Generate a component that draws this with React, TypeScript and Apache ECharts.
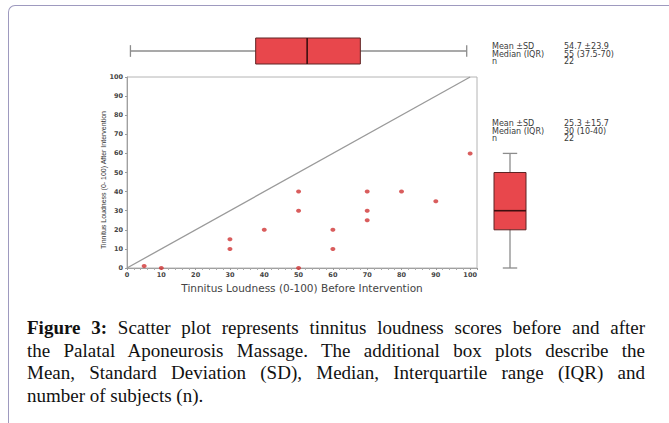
import React, { useEffect, useRef } from "react";
import * as echarts from "echarts";

// Scatter values (before vs after)
const beforeScores = [5, 10, 30, 30, 40, 50, 50, 50, 60, 60, 70, 70, 70, 80, 90, 100];
const afterScores = [1, 0, 10, 15, 20, 40, 30, 0, 20, 10, 40, 30, 25, 40, 35, 60];
// Box plot five-number summaries as drawn [min, q1, median, q3, max]
const beforeBox = [1, 37.5, 52.5, 68, 99];
const afterBox = [0, 20, 30, 50, 60];
// Identity line
const identityLine = [[0, 0], [100, 100]];
// Stats text
const statLabels = ["Mean \u00B1SD", "Median (IQR)", "n"];
const beforeStats = ["54.7 \u00B123.9", "55 (37.5-70)", "22"];
const afterStats = ["25.3 \u00B115.7", "30 (10-40)", "22"];
const xAxisTitle = "Tinnitus Loudness (0-100) Before Intervention";
const yAxisTitle = "Tinnitus Loudness (0- 100) After Intervention";
const captionBold = "Figure 3:";
const captionLines = [
  " Scatter plot represents tinnitus loudness scores before and after",
  "the Palatal Aponeurosis Massage. The additional box plots describe the",
  "Mean, Standard Deviation (SD), Median, Interquartile range (IQR) and",
  "number of subjects (n).",
];

const WHISKER = "#8c8c8c";
const BOX_FILL = "#e8474c";
const BOX_STROKE = "#5e2424";
const MEDIAN = "#3d0f0f";

function boxRender(horizontal: boolean) {
  return (params: any, api: any) => {
    const cs = params.coordSys;
    const v = [0, 1, 2, 3, 4].map((i) => api.value(i));
    const p = v.map((val) => (horizontal ? api.coord([val, 0.5])[0] : api.coord([0.5, val])[1]));
    const children: any[] = [];
    if (horizontal) {
      const cy = cs.y + cs.height / 2;
      const half = cs.height / 2;
      const cap = half * 0.45;
      children.push(
        { type: "line", shape: { x1: p[0], y1: cy, x2: p[4], y2: cy }, style: { stroke: WHISKER, lineWidth: 1.3 } },
        { type: "line", shape: { x1: p[0], y1: cy - cap, x2: p[0], y2: cy + cap }, style: { stroke: WHISKER, lineWidth: 1.3 } },
        { type: "line", shape: { x1: p[4], y1: cy - cap, x2: p[4], y2: cy + cap }, style: { stroke: WHISKER, lineWidth: 1.3 } },
        { type: "rect", shape: { x: p[1], y: cy - half, width: p[3] - p[1], height: half * 2 }, style: { fill: BOX_FILL, stroke: BOX_STROKE, lineWidth: 1 } },
        { type: "line", shape: { x1: p[2], y1: cy - half, x2: p[2], y2: cy + half }, style: { stroke: MEDIAN, lineWidth: 1.6 } }
      );
    } else {
      const cx = cs.x + cs.width / 2;
      const half = cs.width / 2;
      const cap = half * 0.45;
      children.push(
        { type: "line", shape: { x1: cx, y1: p[0], x2: cx, y2: p[4] }, style: { stroke: WHISKER, lineWidth: 1.3 } },
        { type: "line", shape: { x1: cx - cap, y1: p[0], x2: cx + cap, y2: p[0] }, style: { stroke: WHISKER, lineWidth: 1.3 } },
        { type: "line", shape: { x1: cx - cap, y1: p[4], x2: cx + cap, y2: p[4] }, style: { stroke: WHISKER, lineWidth: 1.3 } },
        { type: "rect", shape: { x: cx - half, y: p[3], width: half * 2, height: p[1] - p[3] }, style: { fill: BOX_FILL, stroke: BOX_STROKE, lineWidth: 1 } },
        { type: "line", shape: { x1: cx - half, y1: p[2], x2: cx + half, y2: p[2] }, style: { stroke: MEDIAN, lineWidth: 1.6 } }
      );
    }
    return { type: "group", children };
  };
}

function statTexts(x0: number, x1: number, y0: number, values: string[]) {
  const out: any[] = [];
  statLabels.forEach((lab, i) => {
    const y = y0 + i * 7.6;
    const common = { fontSize: 8, lineHeight: 7.4, fontFamily: "DejaVu Sans", fill: "#3a3a3a", verticalAlign: "middle" };
    out.push({ type: "text", x: x0, y, style: { ...common, text: lab } });
    out.push({ type: "text", x: x1, y, style: { ...common, text: values[i] } });
  });
  return out;
}

export default function App() {
  const ref = useRef<HTMLDivElement>(null);
  useEffect(() => {
    if (!ref.current) return;
    const chart = echarts.init(ref.current, null, { renderer: "svg" });
    const labelStyle = { fontSize: 6.5, fontWeight: "bold" as const, color: "#444", fontFamily: "DejaVu Sans" };
    chart.setOption({
      animation: false,
      grid: [
        { left: 127, top: 77, width: 350, height: 191, show: true, borderColor: "#b4b4b4", borderWidth: 1, backgroundColor: "transparent" },
        { left: 127, top: 38, width: 350, height: 26 },
        { left: 494, top: 77, width: 32, height: 191 },
      ],
      xAxis: [
        {
          gridIndex: 0, type: "value", min: 0, max: 102, interval: 10,
          name: xAxisTitle, nameLocation: "middle", nameGap: 12,
          nameTextStyle: { fontSize: 10.5, color: "#444", fontFamily: "DejaVu Sans" },
          axisLine: { show: true, lineStyle: { color: "#a0a0a0" } },
          axisTick: { show: true, length: 2, lineStyle: { color: "#999" } },
          minorTick: { show: true, splitNumber: 5, length: 2, lineStyle: { color: "#aaa" } },
          splitLine: { show: false },
          axisLabel: { ...labelStyle, margin: 3, showMaxLabel: false, formatter: (v: number) => (v > 100 ? "" : String(v)) },
        },
        { gridIndex: 1, type: "value", min: 0, max: 102, show: false },
        { gridIndex: 2, type: "value", min: 0, max: 1, show: false },
      ],
      yAxis: [
        {
          gridIndex: 0, type: "value", min: 0, max: 100, interval: 10,
          axisLine: { show: true, lineStyle: { color: "#a0a0a0" } },
          axisTick: { show: true, length: 2, lineStyle: { color: "#999" } },
          splitLine: { show: false },
          axisLabel: { ...labelStyle, margin: 4 },
        },
        { gridIndex: 1, type: "value", min: 0, max: 1, show: false },
        { gridIndex: 2, type: "value", min: 0, max: 100, show: false },
      ],
      series: [
        {
          type: "line", xAxisIndex: 0, yAxisIndex: 0, data: identityLine, symbol: "none",
          lineStyle: { color: "#9a9a9a", width: 1.3 }, silent: true,
        },
        {
          type: "scatter", xAxisIndex: 0, yAxisIndex: 0, symbol: "circle", symbolSize: [5, 4],
          itemStyle: { color: "#cf3535" },
          data: beforeScores.map((b, i) => [b, afterScores[i]]),
        },
        {
          type: "custom", xAxisIndex: 1, yAxisIndex: 1, renderItem: boxRender(true),
          data: [beforeBox], encode: { x: [0, 1, 2, 3, 4] },
        },
        {
          type: "custom", xAxisIndex: 2, yAxisIndex: 2, renderItem: boxRender(false),
          data: [afterBox], encode: { y: [0, 1, 2, 3, 4] },
        },
      ],
      graphic: [
        ...statTexts(492, 564, 46.5, beforeStats),
        ...statTexts(492, 564, 123.5, afterStats),
        {
          type: "text", x: 103, y: 180, rotation: Math.PI / 2,
          style: {
            text: yAxisTitle, fontSize: 7, fill: "#333",
            fontFamily: "Liberation Sans Narrow, Liberation Sans", align: "center", verticalAlign: "middle",
          },
        },
      ],
    });
    return () => chart.dispose();
  }, []);

  const lineStyle = (last: boolean): React.CSSProperties => ({
    whiteSpace: "nowrap",
    textAlign: "justify",
    textAlignLast: last ? "left" : "justify",
    height: 22.5,
  });

  return (
    <div style={{ position: "fixed", left: 0, top: 0, width: 669, height: 423, overflow: "hidden", background: "#fff" }}>
      <div
        style={{
          position: "absolute", left: 8, top: 5, width: 700, height: 460,
          borderTop: "1.5px solid #9e9abf", borderLeft: "1.5px solid #9e9abf", borderTopLeftRadius: 7,
        }}
      />
      <div ref={ref} style={{ position: "absolute", left: 0, top: 0, width: 669, height: 300 }} />
      <div
        style={{
          position: "absolute", left: 27, top: 317, width: 618,
          fontFamily: "'Liberation Serif', 'Times New Roman', serif", fontSize: 19, lineHeight: "22.5px",
          color: "#111",
        }}
      >
        {captionLines.map((ln, i) => (
          <div key={i} style={lineStyle(i === captionLines.length - 1)}>
            {i === 0 ? <b>{captionBold}</b> : null}
            {ln}
          </div>
        ))}
      </div>
    </div>
  );
}
